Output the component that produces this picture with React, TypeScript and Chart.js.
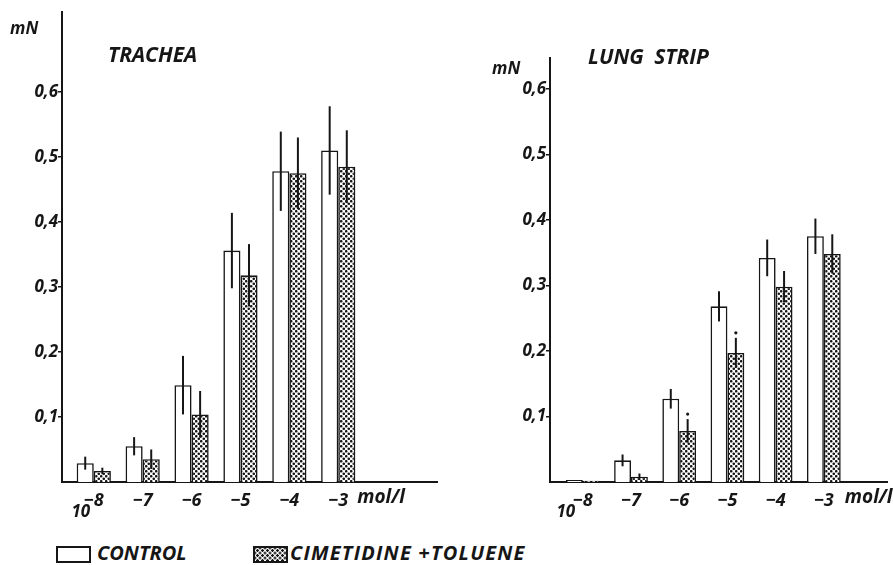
import React, { useEffect, useRef } from 'react';
import { Chart, registerables } from 'chart.js';

Chart.register(...registerables);

// ---- data ----
const EXPONENTS = [-8, -7, -6, -5, -4, -3];
const Y_TICKS = [0.1, 0.2, 0.3, 0.4, 0.5, 0.6];

const TRACHEA_CONTROL = [0.029, 0.055, 0.149, 0.356, 0.478, 0.51];
const TRACHEA_CONTROL_ERR = [0.01, 0.014, 0.045, 0.058, 0.061, 0.068];
const TRACHEA_CIM = [0.017, 0.035, 0.104, 0.318, 0.475, 0.485];
const TRACHEA_CIM_ERR = [0.005, 0.015, 0.036, 0.048, 0.055, 0.056];
const TRACHEA_CIM_SIG = [false, false, false, false, false, false];

const LUNG_CONTROL = [0.003, 0.033, 0.127, 0.268, 0.342, 0.375];
const LUNG_CONTROL_ERR = [0, 0.009, 0.015, 0.023, 0.028, 0.027];
const LUNG_CIM = [0.002, 0.008, 0.078, 0.197, 0.298, 0.348];
const LUNG_CIM_ERR = [0, 0.005, 0.018, 0.023, 0.024, 0.03];
const LUNG_CIM_SIG = [false, false, true, true, false, false];

const SERIES_NAMES = ['CONTROL', 'CIMETIDINE +TOLUENE'];
const UNIT_LABEL = 'mol/l';
const BASE_LABEL = '10';
const Y_UNIT = 'mN';

const INK = '#161616';
const FONT_FAMILY = '"Open Sans", Lato, "DejaVu Sans", sans-serif';

function makePattern(): CanvasPattern | string {
  const c = document.createElement('canvas');
  c.width = 5;
  c.height = 5;
  const g = c.getContext('2d');
  if (!g) return '#888';
  g.fillStyle = '#fff';
  g.fillRect(0, 0, 5, 5);
  g.fillStyle = INK;
  g.beginPath();
  g.arc(1.25, 1.25, 1.3, 0, Math.PI * 2);
  g.fill();
  g.beginPath();
  g.arc(3.75, 3.75, 1.3, 0, Math.PI * 2);
  g.fill();
  return g.createPattern(c, 'repeat') || '#888';
}

type PanelProps = {
  control: number[];
  controlErr: number[];
  cim: number[];
  cimErr: number[];
  cimSig: boolean[];
  yMax: number;
  xMin: number;
  xMax: number;
  width: number;
  height: number;
  left: number;
  axisX: number;
  top: number;
  bottom: number;
  right: number;
  baseOffset: number;
  unitOffset: number;
};

function Panel(p: PanelProps) {
  const ref = useRef<HTMLCanvasElement | null>(null);
  useEffect(() => {
    if (!ref.current) return;
    const pattern = makePattern();
    const values = [p.control, p.cim];
    const errs = [p.controlErr, p.cimErr];
    const font = { family: FONT_FAMILY, size: 17, weight: 'bold' as const, style: 'italic' as const };

    const errorPlugin = {
      id: 'errbars',
      afterDatasetsDraw(chart: any) {
        const ctx = chart.ctx;
        const ys = chart.scales.y;
        const xs = chart.scales.x;
        ctx.save();
        ctx.strokeStyle = INK;
        ctx.fillStyle = INK;
        ctx.lineWidth = 2;
        for (let d = 0; d < 2; d++) {
          const meta = chart.getDatasetMeta(d);
          meta.data.forEach((el: any, j: number) => {
            const v = values[d][j];
            const e = errs[d][j];
            if (e > 0) {
              const y1 = ys.getPixelForValue(v + e);
              const y2 = ys.getPixelForValue(v - e);
              ctx.beginPath();
              ctx.moveTo(el.x, y1);
              ctx.lineTo(el.x, y2);
              ctx.stroke();
            }
            if (d === 1 && p.cimSig[j]) {
              const yt = ys.getPixelForValue(v + e) - 5;
              ctx.beginPath();
              ctx.arc(el.x, yt, 1.6, 0, Math.PI * 2);
              ctx.fill();
            }
          });
        }
        // axis annotations: base "10" under -8 and unit "mol/l"
        ctx.textBaseline = 'top';
        ctx.textAlign = 'center';
        ctx.font = `italic bold 17px ${FONT_FAMILY}`;
        const bottom = chart.chartArea.bottom;
        ctx.fillText(BASE_LABEL, xs.getPixelForValue(EXPONENTS[0]) + p.baseOffset, bottom + 22);
        ctx.textAlign = 'left';
        ctx.font = `italic bold 19px ${FONT_FAMILY}`;
        ctx.fillText(UNIT_LABEL, xs.getPixelForValue(EXPONENTS[EXPONENTS.length - 1]) + p.unitOffset, bottom + 6);
        ctx.restore();
      },
    };

    const chart = new Chart(ref.current, {
      type: 'bar',
      data: {
        datasets: [
          {
            label: SERIES_NAMES[0],
            data: EXPONENTS.map((x, i) => ({ x, y: p.control[i] })),
            backgroundColor: '#ffffff',
            borderColor: INK,
            borderWidth: 1.6,
          },
          {
            label: SERIES_NAMES[1],
            data: EXPONENTS.map((x, i) => ({ x, y: p.cim[i] })),
            backgroundColor: pattern as any,
            borderColor: INK,
            borderWidth: 1.6,
          },
        ],
      },
      options: {
        responsive: false,
        animation: false,
        barPercentage: 1,
        categoryPercentage: 0.7,
        layout: { padding: { left: p.left, top: p.top, right: p.right, bottom: 0 } },
        plugins: { legend: { display: false }, tooltip: { enabled: false }, title: { display: false } },
        scales: {
          x: {
            type: 'linear',
            offset: false,
            min: p.xMin,
            max: p.xMax,
            afterBuildTicks: (s: any) => {
              s.ticks = EXPONENTS.map((v) => ({ value: v }));
            },
            afterFit: (s: any) => {
              s.height = p.height - p.bottom;
            },
            grid: { display: false, drawTicks: false, tickLength: 0 },
            border: { display: true, color: INK, width: 2 },
            ticks: {
              autoSkip: false,
              maxRotation: 0,
              padding: 8,
              color: INK,
              font: { ...font, size: 18 },
              callback: (v: any) => '\u2212' + Math.abs(Number(v)),
            },
          },
          y: {
            type: 'linear',
            min: 0,
            max: p.yMax,
            bounds: 'data',
            afterBuildTicks: (s: any) => {
              s.ticks = Y_TICKS.map((v) => ({ value: v }));
            },
            afterFit: (s: any) => {
              s.width = p.axisX - p.left;
            },
            grid: { display: true, drawOnChartArea: false, drawTicks: true, tickLength: 4, color: INK, lineWidth: 1.5 },
            border: { display: true, color: INK, width: 2 },
            ticks: {
              padding: 0,
              color: INK,
              font: { ...font, size: 17 },
              callback: (v: any) => Number(v).toFixed(1).replace('.', ','),
            },
          },
        },
      } as any,
      plugins: [errorPlugin],
    });
    return () => chart.destroy();
  }, []);
  return <canvas ref={ref} width={p.width} height={p.height} style={{ display: 'block' }} />;
}

const textStyle: React.CSSProperties = {
  position: 'absolute',
  fontFamily: FONT_FAMILY,
  fontWeight: 'bold',
  fontStyle: 'italic',
  color: INK,
  lineHeight: 1,
  whiteSpace: 'pre',
};

export default function App() {
  return (
    <div style={{ position: 'absolute', left: 0, top: 0, width: 893, height: 565, background: '#fff', overflow: 'hidden' }}>
      <div style={{ position: 'absolute', left: 0, top: 0 }}>
        <Panel
          control={TRACHEA_CONTROL}
          controlErr={TRACHEA_CONTROL_ERR}
          cim={TRACHEA_CIM}
          cimErr={TRACHEA_CIM_ERR}
          cimSig={TRACHEA_CIM_SIG}
          yMax={0.723}
          xMin={-8.65}
          xMax={-0.98}
          width={445}
          height={530}
          left={0}
          axisX={62}
          top={12}
          bottom={482}
          right={8}
          baseOffset={-13}
          unitOffset={19}
        />
      </div>
      <div style={{ position: 'absolute', left: 480, top: 0 }}>
        <Panel
          control={LUNG_CONTROL}
          controlErr={LUNG_CONTROL_ERR}
          cim={LUNG_CIM}
          cimErr={LUNG_CIM_ERR}
          cimSig={LUNG_CIM_SIG}
          yMax={0.647}
          xMin={-8.68}
          xMax={-1.69}
          width={413}
          height={530}
          left={0}
          axisX={70}
          top={58}
          bottom={482}
          right={6}
          baseOffset={-17}
          unitOffset={21}
        />
      </div>
      <div style={{ ...textStyle, left: 10, top: 19, fontSize: 17 }}>{Y_UNIT}</div>
      <div style={{ ...textStyle, left: 108, top: 44, fontSize: 21 }}>TRACHEA</div>
      <div style={{ ...textStyle, left: 492, top: 59, fontSize: 17 }}>{Y_UNIT}</div>
      <div style={{ ...textStyle, left: 588, top: 46, fontSize: 21, wordSpacing: 5 }}>LUNG STRIP</div>
      <div style={{ position: 'absolute', left: 56, top: 546, width: 31, height: 13, border: `2px solid ${INK}`, background: '#fff' }} />
      <div style={{ ...textStyle, left: 97, top: 543, fontSize: 20 }}>{SERIES_NAMES[0]}</div>
      <div
        style={{
          position: 'absolute',
          left: 253,
          top: 546,
          width: 31,
          height: 13,
          border: `2px solid ${INK}`,
          backgroundColor: '#fff',
          backgroundImage: `radial-gradient(circle, ${INK} 1.1px, transparent 1.5px), radial-gradient(circle, ${INK} 1.1px, transparent 1.5px)`,
          backgroundSize: '5px 5px, 5px 5px',
          backgroundPosition: '0 0, 2.5px 2.5px',
        }}
      />
      <div style={{ ...textStyle, left: 290, top: 543, fontSize: 20, letterSpacing: 1.2 }}>{SERIES_NAMES[1]}</div>
    </div>
  );
}
